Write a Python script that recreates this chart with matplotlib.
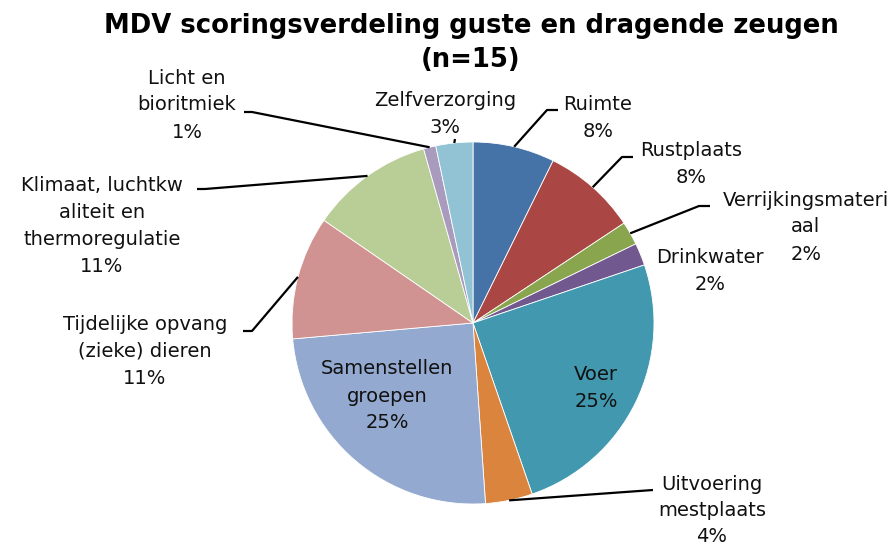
import numpy as np
import matplotlib
matplotlib.use('Agg')
import matplotlib.pyplot as plt

# Data (percent of total score)
names = ["Ruimte", "Rustplaats", "Verrijkingsmateri\naal", "Drinkwater", "Voer",
         "Uitvoering\nmestplaats", "Samenstellen\ngroepen", "Tijdelijke opvang\n(zieke) dieren",
         "Klimaat, luchtkw\naliteit en\nthermoregulatie", "Licht en\nbioritmiek", "Zelfverzorging"]
values = [7.3, 8.4, 2.1, 2.0, 24.9, 4.2, 24.7, 11.0, 11.0, 1.1, 3.3]
pct_labels = ["8%", "8%", "2%", "2%", "25%", "4%", "25%", "11%", "11%", "1%", "3%"]
colors = ["#4572A7", "#AA4643", "#89A54E", "#71588F", "#4198AF", "#DB843D",
          "#93A9CF", "#D19392", "#B9CD96", "#A99BBD", "#92C3D4"]
title_lines = ["MDV scoringsverdeling guste en dragende zeugen", "(n=15)"]

W, H = 894, 548
cx, cy, R = 473, 323, 181
line_step = 27  # px between label lines


def py(y):
    # pixel row (from top) -> data y
    return H - y


fig = plt.figure(figsize=(W / 100, H / 100), dpi=100)
ax = fig.add_axes([0, 0, 1, 1])
ax.pie(values, colors=colors, startangle=90, counterclock=False,
       center=(cx, py(cy)), radius=R,
       wedgeprops=dict(edgecolor='white', linewidth=0.6))
ax.set_xlim(0, W)
ax.set_ylim(0, H)
ax.set_aspect('auto')
ax.axis('off')

# label layout: centre of the label block and leader path (elbow, end) in pixels
text_pos = [(598, 118), (691, 164), (806, 227), (710, 271), (596, 388),
            (712, 510), (387, 396), (145, 351), (102, 226), (187, 105), (445, 114)]
leaders = {0: [(547, 110), (558, 110)],
           1: [(622, 157), (633, 157)],
           2: [(699, 206), (710, 206)],
           5: [(653, 490)],
           7: [(252, 331), (243, 331)],
           8: [(205, 189), (197, 189)],
           9: [(252, 112), (244, 112)],
           10: [(455, 139)]}

cum = np.cumsum([0] + values)
total = cum[-1]
for i, name in enumerate(names):
    tx, ty = text_pos[i]
    lines = name.split("\n") + [pct_labels[i]]
    step = 26 if i == 5 else line_step
    top = ty - step * (len(lines) - 1) / 2
    for k, ln in enumerate(lines):
        ax.text(tx, py(top + k * step), ln, ha='center', va='center',
                fontsize=14, color='#111111')
    if i in leaders:
        mid = np.deg2rad((cum[i] + values[i] / 2) / total * 360)
        sx = cx + R * np.sin(mid)
        sy = cy - R * np.cos(mid)
        pts = [(sx, sy)] + leaders[i]
        ax.plot([p[0] for p in pts], [py(p[1]) for p in pts],
                color='black', lw=1.6, solid_capstyle='butt')

for k, t in enumerate(title_lines):
    ax.text(471, py(26 + k * 34), t, ha='center', va='center',
            fontsize=18.6, fontweight='bold')

fig.savefig('out.png', dpi=100)
